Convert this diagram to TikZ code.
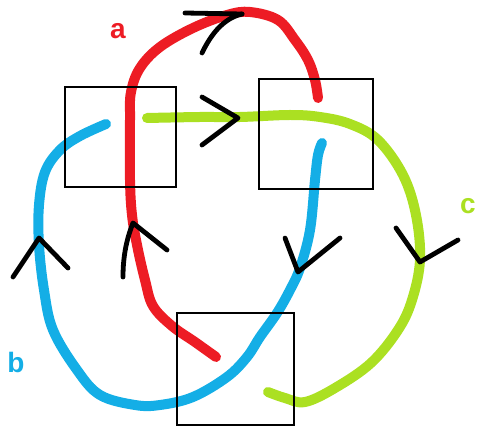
\documentclass[tikz,border=0pt]{standalone}
\usepackage{fontspec}
\setmainfont{Liberation Sans}
\definecolor{pred}{HTML}{ED1C24}
\definecolor{pblue}{HTML}{14AEE6}
\definecolor{pgreen}{HTML}{ABE022}
\tikzset{
  strand/.style={line width=7.5pt, line cap=round, line join=round},
  tick/.style={black, line width=3.6pt, line cap=round, line join=round},
  crossbox/.style={draw=black, line width=1.5pt},
  lbl/.style={font=\fontsize{21}{21}\selectfont\bfseries, inner sep=0pt}
}
\begin{document}
\begin{tikzpicture}[x=0.75pt, y=-0.75pt]
\useasboundingbox (0,0) rectangle (478,427);
% strands
\draw[strand, pred] plot[smooth, tension=0.6] coordinates {(216,357) (195,342) (172,326) (153,306) (145,280) (137,245) (132,215) (130,180) (130,120) (131,92) (140,68) (160,47) (193,28) (227,15) (250,12) (278,20) (295,40) (308,60) (315,80) (318,98)};
\draw[strand, pblue] plot[smooth, tension=0.6] coordinates {(106,124) (80,136) (60,150) (45,172) (39,205) (39,245) (44,290) (53,330) (77,370) (100,395) (135,405) (160,405) (193,397) (227,377) (247,357) (260,337) (277,313) (290,290) (300,268) (310,230) (315,180) (318,155) (322,143)};
\draw[strand, pgreen] plot[smooth, tension=0.6] coordinates {(147,118) (200,117) (240,117) (290,115) (320,117) (350,124) (378,140) (403,175) (416,215) (420,260) (412,300) (398,330) (371,363) (335,388) (305,402) (285,398) (268,392)};
% crossing boxes
\draw[crossbox] (65,87) rectangle (176,187);
\draw[crossbox] (259,79) rectangle (373,189);
\draw[crossbox] (177,313) rectangle (294,425);
% arrowheads
\draw[tick] (185,13) -- (242,14);
\draw[tick] (202,53) .. controls (212,32) and (225,18) .. (242,14);
\draw[tick] (202,97) -- (238,118) -- (202,145);
\draw[tick] (13,277) -- (39,238) -- (68,268);
\draw[tick] (123,277) .. controls (123,255) and (127,238) .. (133,223) -- (167,250);
\draw[tick] (285,238) -- (298,272) -- (340,238);
\draw[tick] (396,228) -- (420,262) -- (458,240);
% labels
\node[lbl, text=pred] (la) at (118,31) {a};
\node[lbl, text=pblue] (lb) at (16,362) {b};
\node[lbl, text=pgreen] (lc) at (468,206) {c};
\end{tikzpicture}
\end{document}
